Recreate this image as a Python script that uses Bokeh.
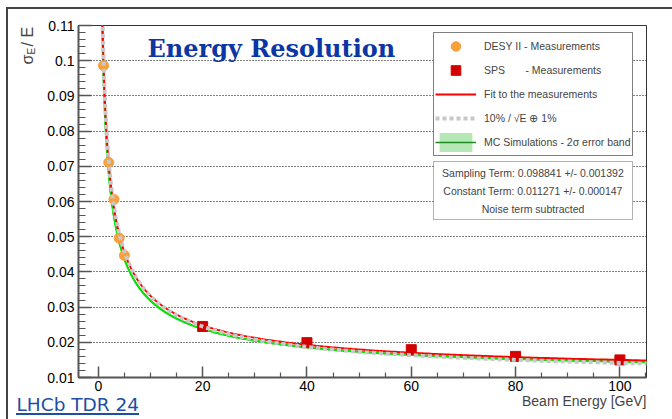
import numpy as np
from math import pi
from bokeh.plotting import figure
from bokeh.models import (Range1d, FixedTicker, Label, BoxAnnotation, Legend,
                          LegendItem, InlineStyleSheet)
from bokeh.embed import file_html
from bokeh.resources import INLINE

# ---------------- data ----------------
desy_energy = [1, 2, 3, 4, 5]
desy_resolution = [0.0986, 0.0711, 0.0606, 0.0496, 0.0447]

sps_energy = [20, 40, 60, 80, 100]
sps_resolution = [0.0245, 0.0199, 0.0179, 0.0160, 0.0150]

# fit parameters (printed in the chart)
fit_sampling = 0.098841
fit_sampling_err = 0.001392
fit_constant = 0.011271
fit_constant_err = 0.000147

# reference parametrisation 10%/sqrt(E) (+) 1%
ref_sampling = 0.10
ref_constant = 0.01

# MC simulation (estimated) and its 2 sigma band
mc_sampling = 0.0945
mc_constant = 0.0110
mc_sampling_2sig = 0.0012
mc_constant_2sig = 0.0002

x_ticks = [0, 20, 40, 60, 80, 100]
x_tick_labels = ["0", "20", "40", "60", "80", "100"]
y_ticks = [0.01, 0.02, 0.03, 0.04, 0.05, 0.06, 0.07, 0.08, 0.09, 0.1, 0.11]
y_tick_labels = ["0.01", "0.02", "0.03", "0.04", "0.05", "0.06", "0.07",
                 "0.08", "0.09", "0.1", "0.11"]
x_minor = [v for v in range(5, 106, 5) if v % 20 != 0]
y_minor = [round(0.01 + 0.002 * i, 3) for i in range(51) if i % 5 != 0]

legend_labels = ["DESY II - Measurements",
                 "SPS\u00a0\u00a0\u00a0\u00a0\u00a0\u00a0 - Measurements",
                 "Fit to the measurements",
                 "10% / \u221aE \u2295 1%",
                 "MC Simulations - 2\u03c3 error band"]

stat_lines = [f"Sampling Term: {fit_sampling:.6f} +/- {fit_sampling_err:.6f}",
              f"Constant Term: {fit_constant:.6f} +/- {fit_constant_err:.6f}",
              "Noise term subtracted"]


def resolution(energy, sampling, constant):
    return np.sqrt((sampling / np.sqrt(energy)) ** 2 + constant ** 2)


energy = np.geomspace(0.6, 106, 600)
fit_curve = resolution(energy, fit_sampling, fit_constant)
ref_curve = resolution(energy, ref_sampling, ref_constant)
mc_curve = resolution(energy, mc_sampling, mc_constant)
mc_low = resolution(energy, mc_sampling - mc_sampling_2sig, mc_constant - mc_constant_2sig)
mc_high = resolution(energy, mc_sampling + mc_sampling_2sig, mc_constant + mc_constant_2sig)

# picture frame (left/top edges) and the link underline, drawn with CSS
frame_css = InlineStyleSheet(css="""
:host { position: relative; }
:host::before {
  content: ""; position: absolute; left: 6px; top: 7px; right: 0; bottom: 0;
  border-left: 2px solid #444444; border-top: 2px solid #444444;
  pointer-events: none; z-index: 20;
}
:host::after {
  content: ""; position: absolute; left: 16px; top: 413px; width: 123px;
  height: 2px; background: #1c4fa5; pointer-events: none; z-index: 20;
}
""")

# ---------------- figure ----------------
W, H = 672, 419
p = figure(width=W, height=H, x_range=Range1d(-3.8, 105.1),
           y_range=Range1d(0.01, 0.11), output_backend="svg",
           toolbar_location=None, min_border_left=78, min_border_right=26,
           min_border_top=25, min_border_bottom=42,
           background_fill_color="white", border_fill_color="white",
           stylesheets=[frame_css])
p.title.visible = False
p.outline_line_color = "#333333"
p.outline_line_width = 1

FONT = "Liberation Sans"

xa = p.xaxis[0]
xa.ticker = FixedTicker(ticks=x_ticks, minor_ticks=x_minor)
xa.major_label_overrides = dict(zip(x_ticks, x_tick_labels))
ya = p.yaxis[0]
ya.ticker = FixedTicker(ticks=y_ticks, minor_ticks=y_minor)
ya.major_label_overrides = dict(zip(y_ticks, y_tick_labels))

for ax in (xa, ya):
    ax.axis_line_color = "#555555"
    ax.axis_line_width = 2
    ax.major_tick_line_color = "#555555"
    ax.major_tick_line_width = 1.5
    ax.minor_tick_line_color = "#555555"
    ax.minor_tick_line_width = 1.2
    ax.major_tick_out = 0
    ax.minor_tick_out = 0
    ax.major_label_text_font = FONT
    ax.major_label_text_font_size = "14px"
    ax.major_label_text_color = "black"
xa.major_tick_in = 11
xa.minor_tick_in = 5
xa.major_label_standoff = 3
ya.major_tick_in = 13
ya.minor_tick_in = 7
ya.major_label_standoff = 4

p.xgrid.visible = False
p.ygrid.grid_line_color = "black"
p.ygrid.grid_line_dash = "1 2"
p.ygrid.grid_line_width = 1

# ---------------- glyphs ----------------
band = p.varea(x=energy, y1=mc_low, y2=mc_high, fill_color="#b6e8b6")
mc_legend_line = p.line(energy, mc_curve, line_color="#1e8c1e", line_width=1.5)
mc_line = p.line(energy, mc_curve, line_color="#00e600", line_width=2)
fit_line = p.line(energy, fit_curve, line_color="#ff0000", line_width=2)
desy = p.scatter(desy_energy, desy_resolution, marker="circle", size=10,
                 fill_color="#f7a03c", line_color="#f7a03c")
sps = p.scatter(sps_energy, sps_resolution, marker="square", size=10,
                fill_color="#d40000", line_color="#d40000")
ref_line = p.line(energy, ref_curve, line_color="#c8c8c8", line_width=4,
                  line_dash="4 3")

legend = Legend(items=[
    LegendItem(label=legend_labels[0], renderers=[desy]),
    LegendItem(label=legend_labels[1], renderers=[sps]),
    LegendItem(label=legend_labels[2], renderers=[fit_line]),
    LegendItem(label=legend_labels[3], renderers=[ref_line]),
    LegendItem(label=legend_labels[4], renderers=[band, mc_legend_line]),
], location=(355, 221))
legend.border_line_color = "black"
legend.border_line_width = 1
legend.background_fill_color = "white"
legend.background_fill_alpha = 1
legend.label_text_font = FONT
legend.label_text_font_size = "10.5px"
legend.glyph_width = 41
legend.glyph_height = 24
legend.label_height = 24
legend.spacing = 0
legend.padding = 1
legend.margin = 0
legend.label_standoff = 8
p.add_layout(legend)

# statistics box
p.add_layout(BoxAnnotation(left=433, right=632, top=161, bottom=219,
                           left_units="canvas", right_units="canvas",
                           top_units="canvas", bottom_units="canvas",
                           fill_color="white", fill_alpha=1,
                           line_color="black", line_width=1))
for i, t in enumerate(stat_lines):
    p.add_layout(Label(x=532.5, y=172 + 18 * i, x_units="canvas", y_units="canvas",
                       text=t, text_align="center", text_baseline="middle",
                       text_font=FONT, text_font_size="10.5px"))

# title
p.add_layout(Label(x=147, y=48, x_units="canvas", y_units="canvas",
                   text="Energy Resolution", text_font="DejaVu Serif",
                   text_font_style="bold", text_font_size="24px",
                   text_color="#0b36a3", text_align="left",
                   text_baseline="alphabetic"))


def outside(panel, **kw):
    kw.setdefault("x_units", "canvas")
    kw.setdefault("y_units", "canvas")
    p.add_layout(Label(**kw), panel)


# axis titles (placed in side panels so they are not clipped by the frame)
outside("below", x=646, y=400, text="Beam Energy [GeV]", text_font=FONT,
        text_font_size="14px", text_align="right", text_baseline="alphabetic")
outside("left", x=27, y=64, text="\u03c3", angle=pi / 2, text_font=FONT,
        text_font_size="16px", text_align="left", text_baseline="middle")
outside("left", x=31, y=54, text="E", angle=pi / 2, text_font=FONT,
        text_font_size="10px", text_align="left", text_baseline="middle")
outside("right", x=27, y=46, text="/ E", angle=pi / 2, text_font=FONT,
        text_font_size="16px", text_align="left", text_baseline="middle")

# source link
outside("above", x=16, y=404, text="LHCb TDR 24", text_font="DejaVu Sans",
        text_font_size="18.5px", text_color="#1c4fa5", text_align="left",
        text_baseline="alphabetic")

open("out.html", "w").write(file_html(p, INLINE))
